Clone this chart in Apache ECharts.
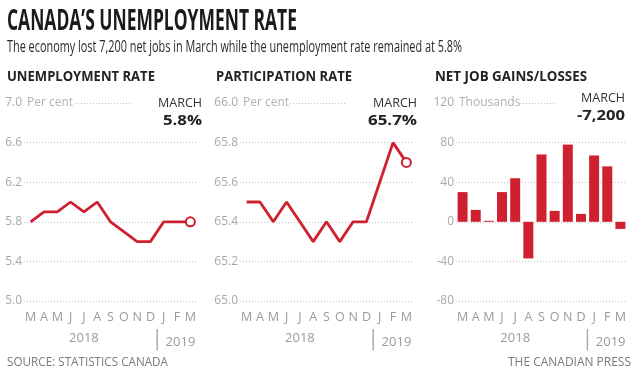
<!DOCTYPE html>
<html>
<head>
<meta charset="utf-8">
<script src="https://cdn.jsdelivr.net/npm/echarts@6/dist/echarts.min.js"></script>
<style>
html,body{margin:0;padding:0;background:#fff;}
#c{width:643px;height:381px;}
</style>
</head>
<body>
<div id="c"></div>
<script>
// ---- data ----
const months = ['M','A','M','J','J','A','S','O','N','D','J','F','M'];
const yearLabels = ['', '', '', '', '2018', '', '', '', '', '', '', '2019', ''];
const unemploymentRate = [5.8, 5.9, 5.9, 6.0, 5.9, 6.0, 5.8, 5.7, 5.6, 5.6, 5.8, 5.8, 5.8];
const participationRate = [65.5, 65.5, 65.4, 65.5, 65.4, 65.3, 65.4, 65.3, 65.4, 65.4, 65.6, 65.8, 65.7];
const netJobs = [30, 12, 1, 30, 44, -37, 68, 11, 78, 8, 67, 56, -7.2];
const unempTicks = {min: 5.0, max: 7.0, interval: 0.4};
const partTicks = {min: 65.0, max: 66.0, interval: 0.2};
const jobsTicks = {min: -80, max: 120, interval: 40};

const RED = '#cf2030';
const GREY = '#9a9a9a';
const SANS = '"Open Sans", "Noto Sans", sans-serif';

const chart = echarts.init(document.getElementById('c'), null, {renderer: 'canvas'});

const grids = [
  {left: 24, top: 103, width: 173, height: 198},
  {left: 240, top: 103, width: 173, height: 198},
  {left: 456, top: 103, width: 171, height: 198}
];

const measureCtx = document.createElement('canvas').getContext('2d');
function fitText(x, y, str, target, opts) {
  const o = Object.assign({size: 14, weight: 'normal', fill: '#222', align: 'left'}, opts || {});
  measureCtx.font = o.weight + ' ' + o.size + 'px "Open Sans"';
  const w = measureCtx.measureText(str).width;
  return {type: 'text', x: x, y: y, scaleX: target / w, silent: true,
    style: {text: str, fill: o.fill, fontFamily: SANS, fontSize: o.size, fontWeight: o.weight,
      align: o.align, textAlign: o.align, verticalAlign: 'middle', textVerticalAlign: 'middle'}};
}
function dots(x1, x2, y) {
  return {type: 'line', silent: true, shape: {x1: x1, y1: y, x2: x2, y2: y},
    style: {stroke: '#c4c4c4', lineWidth: 1, lineDash: [1, 2]}};
}

function monthAxis(gi) {
  return {
    type: 'category', gridIndex: gi, data: months, boundaryGap: true,
    axisLine: {show: false}, axisTick: {show: false}, splitLine: {show: false},
    axisLabel: {color: GREY, fontFamily: SANS, fontSize: 12.5, margin: 10, interval: 0}
  };
}
function yearAxis(gi) {
  return {
    type: 'category', gridIndex: gi, data: yearLabels, boundaryGap: true,
    position: 'bottom', offset: 28,
    axisLine: {show: false}, axisTick: {show: false}, splitLine: {show: false},
    axisLabel: {color: GREY, fontFamily: SANS, fontSize: 13, margin: 3, interval: 0,
      formatter: function (v, i) {
        if (!v) return '';
        return i > 6 ? '{bar|\u2502}{y|' + v + '}' : v;
      },
      rich: {
        bar: {fontSize: 18, color: '#aaa', fontFamily: 'DejaVu Sans', padding: [0, 0, 2, 0]},
        y: {fontSize: 13, color: GREY, fontFamily: SANS, padding: [0, 7, 0, 3]}
      }}
  };
}
function valueAxis(gi, t, fmt, name) {
  return {
    type: 'value', gridIndex: gi, min: t.min, max: t.max, interval: t.interval,
    name: name, nameLocation: 'end', nameGap: 0,
    nameTextStyle: {color: '#b0b0b0', fontFamily: SANS, fontSize: 12, align: 'left',
      verticalAlign: 'middle', padding: [0, 0, 0, 3]},
    axisLine: {show: false}, axisTick: {show: false},
    axisLabel: {color: '#a8a8a8', fontFamily: SANS, fontSize: 12, margin: 2, formatter: fmt},
    splitLine: {show: true, showMaxLine: false,
      lineStyle: {color: '#c4c4c4', type: [1, 2], width: 1}}
  };
}
function lastMarker(arr) {
  return arr.map(function (v, i) {
    if (i === arr.length - 1) {
      return {value: v, symbol: 'circle', symbolSize: 9,
        itemStyle: {color: '#fff', borderColor: RED, borderWidth: 2}};
    }
    return v;
  });
}

const option = {
  animation: false,
  backgroundColor: '#fff',
  grid: grids,
  xAxis: [monthAxis(0), monthAxis(1), monthAxis(2), yearAxis(0), yearAxis(1), yearAxis(2)],
  yAxis: [
    valueAxis(0, unempTicks, function (v) { return v.toFixed(1); }, 'Per cent'),
    valueAxis(1, partTicks, function (v) { return v.toFixed(1); }, 'Per cent'),
    valueAxis(2, jobsTicks, function (v) { return String(v); }, 'Thousands')
  ],
  series: [
    {type: 'line', xAxisIndex: 0, yAxisIndex: 0, data: lastMarker(unemploymentRate),
      symbol: 'none', lineStyle: {color: RED, width: 2.8}, itemStyle: {color: RED}},
    {type: 'line', xAxisIndex: 1, yAxisIndex: 1, data: lastMarker(participationRate),
      symbol: 'none', lineStyle: {color: RED, width: 2.8}, itemStyle: {color: RED}},
    {type: 'bar', xAxisIndex: 2, yAxisIndex: 2, data: netJobs, barWidth: 10,
      itemStyle: {color: RED}}
  ],
  graphic: [
    fitText(7, 22, 'CANADA\u2019S UNEMPLOYMENT RATE', 290, {size: 29, weight: 'bold', fill: '#1a1a1a'}),
    fitText(7, 47, 'The economy lost 7,200 net jobs in March while the unemployment rate remained at 5.8%', 455, {size: 17, fill: '#2a2a2a'}),
    fitText(7, 77, 'UNEMPLOYMENT RATE', 148, {size: 14.5, weight: 'bold'}),
    fitText(216, 77, 'PARTICIPATION RATE', 136, {size: 14.5, weight: 'bold'}),
    fitText(435, 77, 'NET JOB GAINS/LOSSES', 152, {size: 14.5, weight: 'bold'}),
    dots(75, 132, 103.5), dots(290, 347, 103.5), dots(520, 555, 103.5),
    fitText(202, 103, 'MARCH', 44, {size: 12.5, align: 'right', fill: '#333'}),
    fitText(202, 121, '5.8%', 39, {size: 15, weight: 'bold', align: 'right'}),
    fitText(417, 103, 'MARCH', 44, {size: 12.5, align: 'right', fill: '#333'}),
    fitText(417, 121, '65.7%', 49, {size: 15, weight: 'bold', align: 'right'}),
    fitText(625, 98, 'MARCH', 44, {size: 12.5, align: 'right', fill: '#333'}),
    fitText(625, 116, '-7,200', 48, {size: 15, weight: 'bold', align: 'right'}),
    fitText(7, 362, 'SOURCE: STATISTICS CANADA', 161, {size: 13, fill: '#7a7a7a'}),
    fitText(631, 362, 'THE CANADIAN PRESS', 123, {size: 13, fill: '#7a7a7a', align: 'right'})
  ]
};
chart.setOption(option);
</script>
</body>
</html>
